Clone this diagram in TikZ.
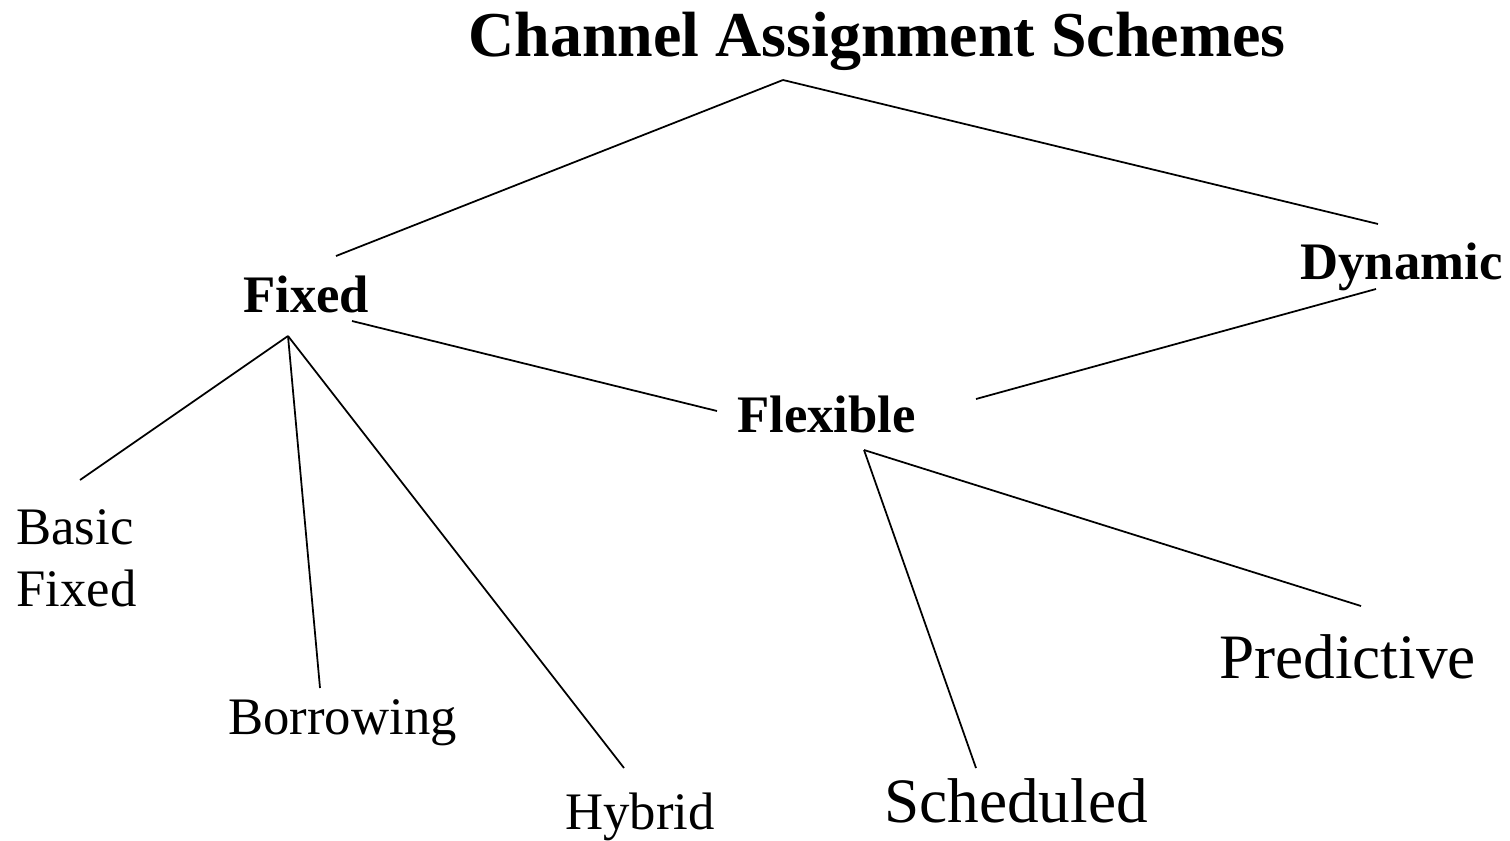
\documentclass[tikz,border=0pt]{standalone}
\usepackage{fontspec}
\setmainfont{Liberation Serif}
\usetikzlibrary{arrows.meta}

\begin{document}
\begin{tikzpicture}[x=0.02cm,y=-0.02cm]
\useasboundingbox (0,0) rectangle (1510,841);
\begin{scope}[every node/.style={anchor=base west,inner sep=0pt,font=\fontsize{30}{36}\selectfont}]
    \node (title) at (468,57) {\fontsize{36.4}{40}\selectfont\bfseries Channel Assignment Schemes};
    \node (fixed) at (243,312) {\bfseries Fixed};
    \node (dyn) at (1300,279) {\bfseries Dynamic};
    \node (flex) at (737,432) {\bfseries Flexible};
    \node (basic) at (16,544) {Basic};
    \node (basic2) at (16,606) {Fixed};
    \node (borrow) at (228,734) {Borrowing};
    \node (hybrid) at (565,829) {Hybrid};
    \node (sched) at (884,822) {\fontsize{36}{40}\selectfont Scheduled};
    \node (pred) at (1219,678) {\fontsize{36}{40}\selectfont Predictive};
\end{scope}
% line ends
\coordinate (t0) at (783,80);
\coordinate (fx0) at (336,256);
\coordinate (dy0) at (1378,224);
\coordinate (dy1) at (1376,289);
\coordinate (fl0) at (976,399);
\coordinate (fx1) at (352,321);
\coordinate (fl1) at (717,411);
\coordinate (fx2) at (288,336);
\coordinate (ba0) at (80,480);
\coordinate (bo0) at (320,688);
\coordinate (hy0) at (624,768);
\coordinate (fl2) at (864,450);
\coordinate (sc0) at (976,768);
\coordinate (pr0) at (1361,606);
\begin{scope}[every edge/.style={draw=black,line width=1pt}]
    \path (t0) edge (fx0);
    \path (t0) edge (dy0);
    \path (dy1) edge (fl0);
    \path (fx1) edge (fl1);
    \path (fx2) edge (ba0);
    \path (fx2) edge (bo0);
    \path (fx2) edge (hy0);
    \path (fl2) edge (sc0);
    \path (fl2) edge (pr0);
\end{scope}
\end{tikzpicture}
\end{document}
